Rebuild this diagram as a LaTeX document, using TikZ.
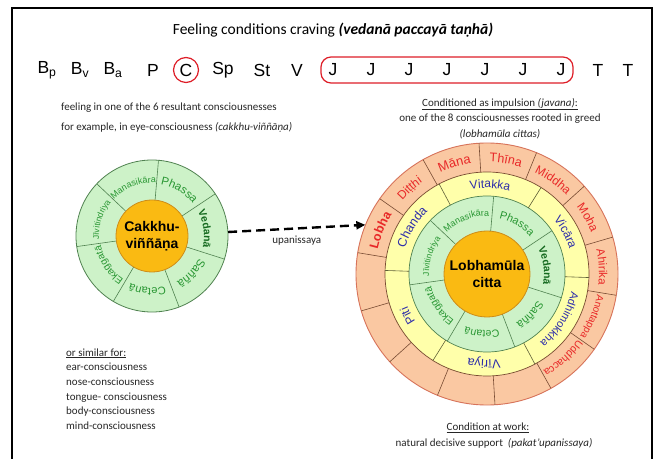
\documentclass[tikz,border=0pt]{standalone}
\usepackage{fontspec}
\setmainfont{Carlito}
\newfontfamily\arialfont{Liberation Sans}
\usetikzlibrary{arrows.meta,decorations.text}
\definecolor{coregold}{RGB}{250,186,18}
\definecolor{coreedge}{RGB}{205,140,25}
\definecolor{ringgreen}{RGB}{205,242,200}
\definecolor{greenedge}{RGB}{80,130,80}
\definecolor{ringyellow}{RGB}{255,255,170}
\definecolor{yellowedge}{RGB}{95,95,55}
\definecolor{ringsalmon}{RGB}{250,200,162}
\definecolor{salmonedge}{RGB}{215,115,90}
\definecolor{salmonline}{RGB}{120,75,50}
\definecolor{labgreen}{RGB}{40,150,50}
\definecolor{labdkgreen}{RGB}{20,105,30}
\definecolor{labblue}{RGB}{45,45,170}
\definecolor{labred}{RGB}{232,40,40}
\definecolor{seqred}{RGB}{222,30,40}
\newcommand{\rcore}{43}
\newcommand{\rgreen}{78}
\newcommand{\ryellow}{102}
\newcommand{\rsalmon}{131}
\newcommand{\lcore}{36}
\newcommand{\lgreen}{76}
\newcommand{\greenfont}{\color{labgreen}\arialfont}
\newcommand{\bluefont}{\color{labblue}\arialfont}
\newcommand{\redfont}{\color{labred}\arialfont}
\newcommand{\arclabel}[4]{\path[decorate,decoration={text along path,text align=center,text={|#3|#4}}] (#1+40:#2) arc[start angle=#1+40,end angle=#1-40,radius=#2];}

\begin{document}
\begin{tikzpicture}[x=1pt,y=1pt,
  bodytext/.style={font=\fontsize{11}{13}\selectfont, text=black!85, inner sep=0pt},
  seqletter/.style={font=\arialfont\fontsize{17.5}{17.5}\selectfont, inner sep=0pt},
  seqmark/.style={draw=seqred, line width=1.2pt},
  corenode/.style={circle, draw=coreedge, fill=coregold, line width=0.8pt, inner sep=0pt, align=center, font=\arialfont\bfseries\fontsize{14}{17}\selectfont},
  wheelnode/.style={circle, inner sep=0pt},
  greenline/.style={draw=greenedge, line width=0.6pt},
  yellowline/.style={draw=yellowedge, line width=0.6pt},
  salmonrule/.style={draw=salmonline, line width=0.6pt},
  upa/.style={line width=2.4pt, dash pattern=on 9pt off 5pt, -{Triangle[length=9pt,width=8pt]}}]
\fill[white] (0,0) rectangle (661,458);
\useasboundingbox (0,0) rectangle (661,458);
\draw[line width=1.8pt] (12,-5) -- (12,450) -- (652,450) -- (652,-5);
%title
\node[font=\fontsize{15.5}{17}\selectfont] (title) at (333,428) {Feeling conditions craving \textbf{\textit{(vedanā paccayā taṇhā)}}};
%sequence
\node[seqletter] (seqBp) at (47,388) {B\textsubscript{p}};
\node[seqletter] (seqBv) at (80,388) {B\textsubscript{v}};
\node[seqletter] (seqBa) at (113,388) {B\textsubscript{a}};
\node[seqletter] (seqP) at (153,388) {P};
\node[seqletter, seqmark, circle, minimum size=25pt] (seqC) at (186,388) {C};
\node[seqletter] (seqSp) at (223,388) {Sp};
\node[seqletter] (seqSt) at (262,388) {St};
\node[seqletter] (seqV) at (297,388) {V};
\node[seqmark, rounded corners=10pt, minimum width=252pt, minimum height=26pt] (jbox) at (447,388) {};
\node[seqletter] (seqJa) at (333,388) {J};
\node[seqletter] (seqJb) at (371,388) {J};
\node[seqletter] (seqJc) at (409,388) {J};
\node[seqletter] (seqJd) at (447,388) {J};
\node[seqletter] (seqJe) at (485,388) {J};
\node[seqletter] (seqJf) at (523,388) {J};
\node[seqletter] (seqJg) at (561,388) {J};
\node[seqletter] (seqTa) at (598,388) {T};
\node[seqletter] (seqTb) at (628,388) {T};
%upper notes
\node[bodytext, anchor=base west] (feelA) at (61,347) {feeling in one of the 6 resultant consciousnesses};
\node[bodytext, anchor=base west] (feelB) at (61,327) {for example, in eye-consciousness \textit{(cakkhu-viññāṇa)}};
\node[bodytext] (impA) at (500,354) {\underline{Conditioned as impulsion \textit{(javana)}:}};
\node[bodytext] (impB) at (500,339) {one of the 8 consciousnesses rooted in greed};
\node[bodytext] (impC) at (500,324) {\textit{(lobhamūla cittas)}};
%left wheel
\begin{scope}[shift={(152,222)}]
\draw[greenedge, fill=ringgreen, line width=0.8pt] (0,0) circle (\lgreen);
\draw[greenline] (33.7:\lcore) -- (33.7:\lgreen);
\draw[greenline] (85.1:\lcore) -- (85.1:\lgreen);
\draw[greenline] (136.6:\lcore) -- (136.6:\lgreen);
\draw[greenline] (188:\lcore) -- (188:\lgreen);
\draw[greenline] (239.4:\lcore) -- (239.4:\lgreen);
\draw[greenline] (290.9:\lcore) -- (290.9:\lgreen);
\draw[greenline] (342.3:\lcore) -- (342.3:\lgreen);
\arclabel{8}{52}{\color{labdkgreen}\arialfont\bfseries\fontsize{10.5}{10.5}\selectfont}{Vedanā}
\arclabel{59.4}{52}{\greenfont\fontsize{11.5}{11.5}\selectfont}{Phassa}
\arclabel{110.9}{53}{\greenfont\fontsize{9}{9}\selectfont}{Manasikāra}
\arclabel{162.3}{53}{\greenfont\fontsize{8.5}{8.5}\selectfont}{Jīvitindriya}
\arclabel{213.7}{52}{\greenfont\fontsize{10}{10}\selectfont}{Ekaggatā}
\arclabel{265.1}{52}{\greenfont\fontsize{11}{11}\selectfont}{Cetanā}
\arclabel{316.6}{52}{\greenfont\fontsize{11.5}{11.5}\selectfont}{Saññā}
\end{scope}
\node[wheelnode, minimum size=152pt] (cakkhuwheel) at (152,222) {};
\node[corenode, minimum size=72pt] (cakkhu) at (152,222) {Cakkhu-\\viññāṇa};
%right wheel
\begin{scope}[shift={(487,184)}]
\draw[salmonedge, fill=ringsalmon, line width=0.9pt] (0,0) circle (\rsalmon);
\draw[salmonline, fill=ringyellow, line width=0.7pt] (0,0) circle (\ryellow);
\draw[greenedge, fill=ringgreen, line width=0.7pt] (0,0) circle (\rgreen);
%salmon ring
\draw[salmonrule] (16.36:\ryellow) -- (16.36:\rsalmon);
\draw[salmonrule] (42.07:\ryellow) -- (42.07:\rsalmon);
\draw[salmonrule] (67.79:\ryellow) -- (67.79:\rsalmon);
\draw[salmonrule] (93.5:\ryellow) -- (93.5:\rsalmon);
\draw[salmonrule] (119.21:\ryellow) -- (119.21:\rsalmon);
\draw[salmonrule] (144.93:\ryellow) -- (144.93:\rsalmon);
\draw[salmonrule] (170.64:\ryellow) -- (170.64:\rsalmon);
\draw[salmonrule] (196.36:\ryellow) -- (196.36:\rsalmon);
\draw[salmonrule] (222.07:\ryellow) -- (222.07:\rsalmon);
\draw[salmonrule] (247.79:\ryellow) -- (247.79:\rsalmon);
\draw[salmonrule] (273.5:\ryellow) -- (273.5:\rsalmon);
\draw[salmonrule] (299.21:\ryellow) -- (299.21:\rsalmon);
\draw[salmonrule] (324.93:\ryellow) -- (324.93:\rsalmon);
\draw[salmonrule] (350.64:\ryellow) -- (350.64:\rsalmon);
\arclabel{3.5}{112}{\redfont\fontsize{11.5}{11.5}\selectfont}{Ahirika}
\arclabel{29.2}{112}{\redfont\fontsize{12}{12}\selectfont}{Moha}
\arclabel{54.9}{112}{\redfont\fontsize{12}{12}\selectfont}{Middha}
\arclabel{80.6}{112}{\redfont\fontsize{12.5}{12.5}\selectfont}{Thīna}
\arclabel{106.4}{112}{\redfont\fontsize{13}{13}\selectfont}{Māna}
\arclabel{132.1}{112}{\redfont\fontsize{12}{12}\selectfont}{Diṭṭhi}
\arclabel{157.8}{112}{\redfont\bfseries\fontsize{12.5}{12.5}\selectfont}{Lobha}
\arclabel{312.1}{112}{\redfont\fontsize{10.5}{10.5}\selectfont}{Uddhacca}
\arclabel{337.8}{112}{\redfont\fontsize{10}{10}\selectfont}{Anottappa}
%yellow ring
\draw[yellowline] (358:\rgreen) -- (358:\ryellow);
\draw[yellowline] (58:\rgreen) -- (58:\ryellow);
\draw[yellowline] (118:\rgreen) -- (118:\ryellow);
\draw[yellowline] (178:\rgreen) -- (178:\ryellow);
\draw[yellowline] (238:\rgreen) -- (238:\ryellow);
\draw[yellowline] (298:\rgreen) -- (298:\ryellow);
\arclabel{28}{86}{\bluefont\fontsize{12}{12}\selectfont}{Vicāra}
\arclabel{88}{86}{\bluefont\fontsize{12}{12}\selectfont}{Vitakka}
\arclabel{148}{86}{\bluefont\fontsize{12.5}{12.5}\selectfont}{Chanda}
\arclabel{208}{86}{\bluefont\fontsize{12}{12}\selectfont}{Pīti}
\arclabel{268}{86}{\bluefont\fontsize{12.5}{12.5}\selectfont}{Vīriya}
\arclabel{328}{86}{\bluefont\fontsize{11}{11}\selectfont}{Adhimokkha}
%green ring
\draw[greenline] (33.7:\rcore) -- (33.7:\rgreen);
\draw[greenline] (85.1:\rcore) -- (85.1:\rgreen);
\draw[greenline] (136.6:\rcore) -- (136.6:\rgreen);
\draw[greenline] (188:\rcore) -- (188:\rgreen);
\draw[greenline] (239.4:\rcore) -- (239.4:\rgreen);
\draw[greenline] (290.9:\rcore) -- (290.9:\rgreen);
\draw[greenline] (342.3:\rcore) -- (342.3:\rgreen);
\arclabel{8}{57}{\color{labdkgreen}\arialfont\bfseries\fontsize{10.5}{10.5}\selectfont}{Vedanā}
\arclabel{59.4}{57}{\greenfont\fontsize{11}{11}\selectfont}{Phassa}
\arclabel{110.9}{58}{\greenfont\fontsize{9}{9}\selectfont}{Manasikāra}
\arclabel{162.3}{58}{\greenfont\fontsize{8.5}{8.5}\selectfont}{Jīvitindriya}
\arclabel{213.7}{57}{\greenfont\fontsize{10}{10}\selectfont}{Ekaggatā}
\arclabel{265.1}{57}{\greenfont\fontsize{10.5}{10.5}\selectfont}{Cetanā}
\arclabel{316.6}{57}{\greenfont\fontsize{11}{11}\selectfont}{Saññā}
\end{scope}
\node[wheelnode, minimum size=262pt] (lobhawheel) at (487,184) {};
\node[corenode, minimum size=86pt] (lobhamula) at (487,184) {Lobhamūla\\citta};
%upanissaya
\draw[upa] (cakkhuwheel.3) -- (lobhawheel.158) node[bodytext, midway, below=6pt] (upanissaya) {upanissaya};
%lower notes
\node[bodytext, anchor=base west] (simA) at (66,102) {\underline{or similar for:}};
\node[bodytext, anchor=base west] (simB) at (66,88) {ear-consciousness};
\node[bodytext, anchor=base west] (simC) at (66,73) {nose-consciousness};
\node[bodytext, anchor=base west] (simD) at (66,58) {tongue- consciousness};
\node[bodytext, anchor=base west] (simE) at (66,44) {body-consciousness};
\node[bodytext, anchor=base west] (simF) at (66,29) {mind-consciousness};
\node[bodytext] (workA) at (488,30) {\underline{Condition at work:}};
\node[bodytext] (workB) at (494,15) {natural decisive support \ \textit{(pakat'upanissaya)}};
\end{tikzpicture}
\end{document}
